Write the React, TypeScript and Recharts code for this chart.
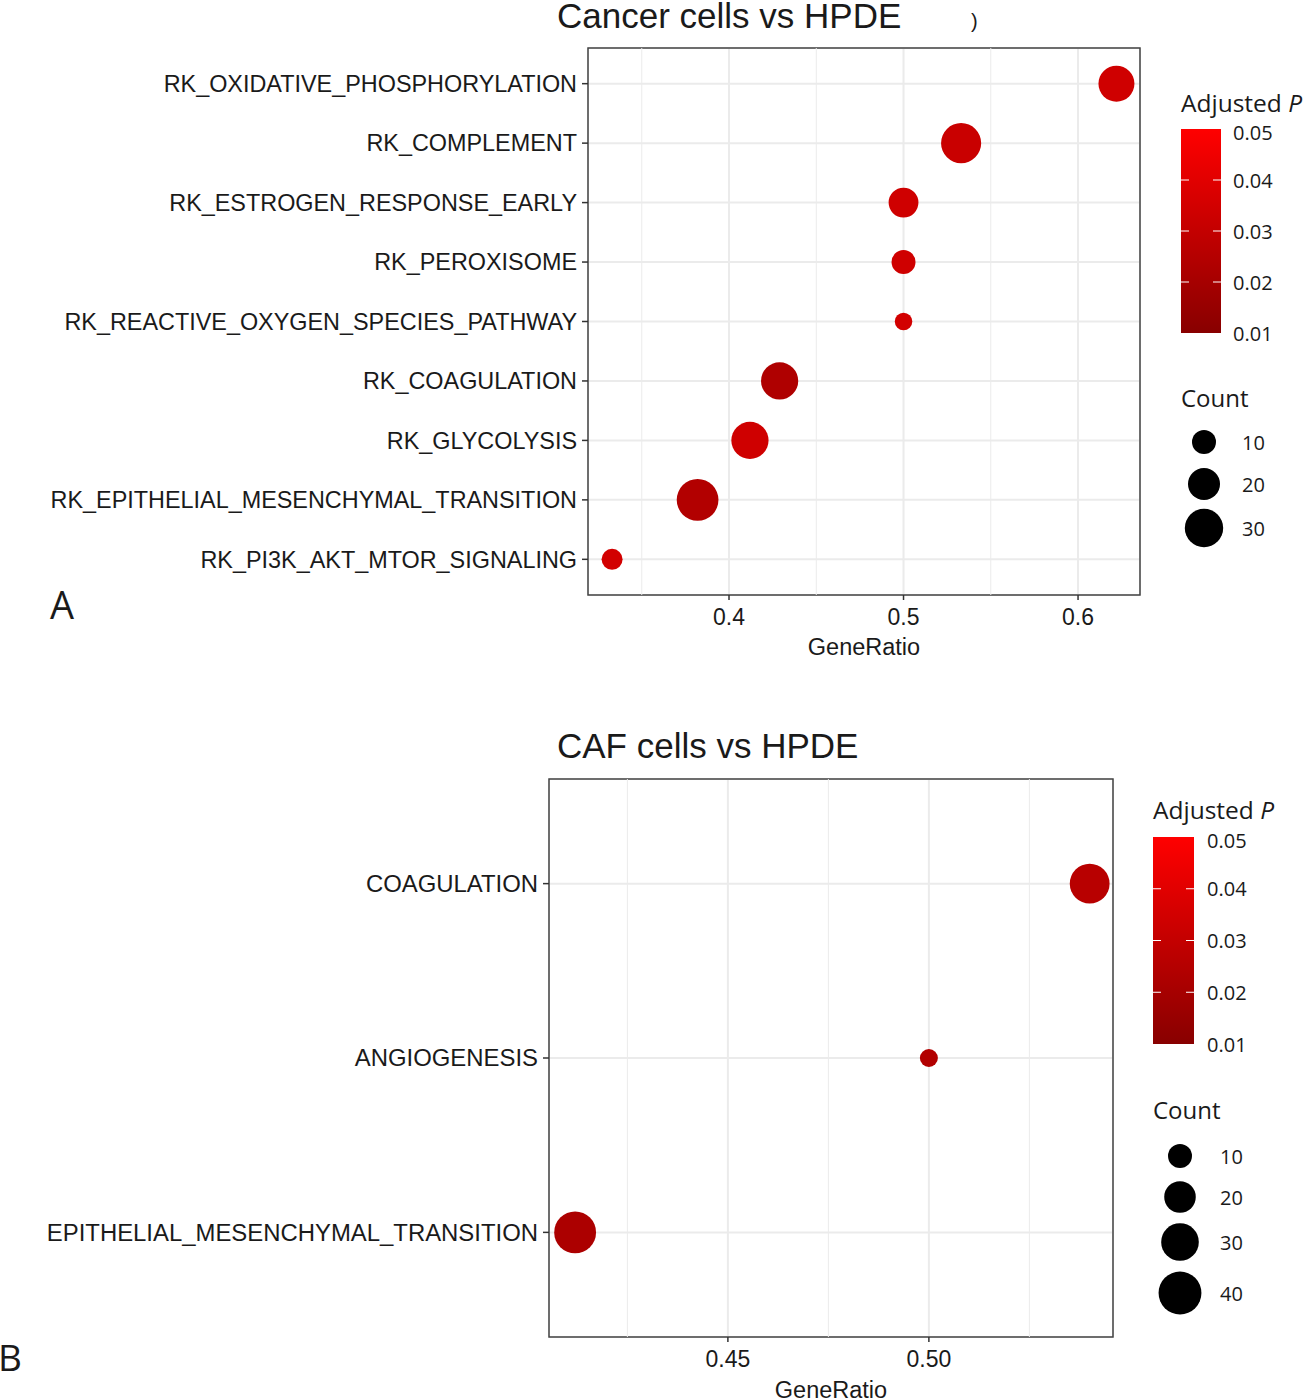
import React from "react";
import {
  ScatterChart,
  Scatter,
  XAxis,
  YAxis,
  ZAxis,
  CartesianGrid,
  ReferenceLine,
  ReferenceArea,
  Cell,
} from "recharts";

// ---- panel A: Cancer cells vs HPDE ----
const termsA = [
  "RK_OXIDATIVE_PHOSPHORYLATION",
  "RK_COMPLEMENT",
  "RK_ESTROGEN_RESPONSE_EARLY",
  "RK_PEROXISOME",
  "RK_REACTIVE_OXYGEN_SPECIES_PATHWAY",
  "RK_COAGULATION",
  "RK_GLYCOLYSIS",
  "RK_EPITHELIAL_MESENCHYMAL_TRANSITION",
  "RK_PI3K_AKT_MTOR_SIGNALING",
];
const ratioA = [0.622, 0.533, 0.5, 0.5, 0.5, 0.429, 0.412, 0.382, 0.333];
const countA = [26, 33, 17, 10, 4, 28, 28, 36, 7];
const padjA = [0.034, 0.032, 0.034, 0.034, 0.035, 0.023, 0.034, 0.024, 0.035];
const xTicksA = [0.4, 0.5, 0.6];
const xMinorA = [0.35, 0.45, 0.55];
const countLegendA = [10, 20, 30];

// ---- panel B: CAF cells vs HPDE ----
const termsB = ["COAGULATION", "ANGIOGENESIS", "EPITHELIAL_MESENCHYMAL_TRANSITION"];
const ratioB = [0.54, 0.5, 0.412];
const countB = [34, 4, 38];
const padjB = [0.026, 0.024, 0.022];
const xTicksB = [0.45, 0.5];
const xMinorB = [0.425, 0.475, 0.525];
const countLegendB = [10, 20, 30, 40];

const pTicks = [0.05, 0.04, 0.03, 0.02, 0.01];

const AXIS_FONT = "'Liberation Sans', Arial, sans-serif";
const LEGEND_FONT = "'Open Sans', 'Noto Sans', sans-serif";
const TEXT = "#1a1a1a";

// dark red at 0.01 -> red at 0.05
const pColor = (p: number) => {
  const t = Math.min(1, Math.max(0, (p - 0.01) / 0.04));
  return `rgb(${Math.round(136 + t * 119)},0,0)`;
};

const Z_DOMAIN: [number, number] = [0, 40];
const areaOf = (c: number, range: [number, number]) =>
  range[0] + ((c - Z_DOMAIN[0]) / (Z_DOMAIN[1] - Z_DOMAIN[0])) * (range[1] - range[0]);
const radiusOf = (c: number, range: [number, number]) => Math.sqrt(areaOf(c, range) / Math.PI);

interface PanelProps {
  terms: string[];
  ratio: number[];
  count: number[];
  padj: number[];
  xDomain: [number, number];
  xTicks: number[];
  xMinor: number[];
  digits: number;
  zRange: [number, number];
  width: number;
  height: number;
  top: number;
  plotLeft: number;
  plotRight: number;
  plotTop: number;
  xAxisHeight: number;
  labelOffset: number;
  yFont: number;
}

function DotPanel(p: PanelProps) {
  const n = p.terms.length;
  const yDomain: [number, number] = [-0.6, n - 1 + 0.6];
  const data = p.terms.map((t, i) => ({ x: p.ratio[i], y: i, z: p.count[i], term: t }));

  return (
    <div style={{ position: "absolute", left: 0, top: p.top }}>
      <ScatterChart
        width={p.width}
        height={p.height}
        margin={{ top: p.plotTop, right: p.width - p.plotRight, bottom: 0, left: 0 }}
      >
        <CartesianGrid stroke="#ebebeb" strokeWidth={2} />
        {p.xMinor.map((v) => (
          <ReferenceLine key={v} x={v} stroke="#ebebeb" strokeWidth={1} />
        ))}
        <XAxis
          type="number"
          dataKey="x"
          domain={p.xDomain}
          allowDataOverflow
          ticks={p.xTicks}
          tickFormatter={(v: number) => v.toFixed(p.digits)}
          height={p.xAxisHeight}
          tickSize={5}
          tickMargin={9}
          axisLine={false}
          tickLine={{ stroke: "#333", strokeWidth: 1.5 }}
          tick={{ fontSize: 23, fill: TEXT, fontFamily: AXIS_FONT }}
          label={{
            value: "GeneRatio",
            position: "insideBottom",
            offset: p.labelOffset,
            fontSize: 23.5,
            fill: TEXT,
            fontFamily: AXIS_FONT,
          }}
        />
        <YAxis
          type="number"
          dataKey="y"
          domain={yDomain}
          reversed
          allowDataOverflow
          ticks={p.terms.map((_, i) => i)}
          interval={0}
          tickFormatter={(v: number) => p.terms[v] ?? ""}
          width={p.plotLeft}
          tickSize={6}
          tickMargin={5}
          axisLine={false}
          tickLine={{ stroke: "#333", strokeWidth: 1.5 }}
          tick={{ fontSize: p.yFont, fill: TEXT, fontFamily: AXIS_FONT }}
        />
        <ZAxis type="number" dataKey="z" domain={Z_DOMAIN} range={p.zRange} />
        <ReferenceArea
          x1={p.xDomain[0]}
          x2={p.xDomain[1]}
          y1={yDomain[0]}
          y2={yDomain[1]}
          fill="none"
          stroke="#444"
          strokeWidth={1.5}
          ifOverflow="visible"
        />
        <Scatter data={data} isAnimationActive={false}>
          {data.map((d, i) => (
            <Cell key={d.term} fill={pColor(p.padj[i])} />
          ))}
        </Scatter>
      </ScatterChart>
    </div>
  );
}

interface LegendProps {
  x: number;
  titleY: number;
  barTop: number;
  barH: number;
  barW: number;
  labelX: number;
  countTitleY: number;
  circleX: number;
  circleYs: number[];
  countLabelX: number;
  counts: number[];
  zRange: [number, number];
  gradId: string;
}

function SideLegend(l: LegendProps) {
  const yOf = (v: number) => l.barTop + l.barH - ((v - 0.01) / 0.04) * l.barH;
  return (
    <g>
      <defs>
        <linearGradient id={l.gradId} x1="0" y1="0" x2="0" y2="1">
          <stop offset="0%" stopColor={pColor(0.05)} />
          <stop offset="100%" stopColor={pColor(0.01)} />
        </linearGradient>
      </defs>
      <text x={l.x} y={l.titleY} fontSize={24.5} fill={TEXT} fontFamily={LEGEND_FONT}>
        Adjusted <tspan fontStyle="italic">P</tspan>
      </text>
      <rect x={l.x} y={l.barTop} width={l.barW} height={l.barH} fill={`url(#${l.gradId})`} />
      {pTicks.slice(1, -1).map((v) => (
        <g key={v}>
          <line x1={l.x} x2={l.x + 8} y1={yOf(v)} y2={yOf(v)} stroke="#fff" strokeWidth={1} />
          <line x1={l.x + l.barW - 8} x2={l.x + l.barW} y1={yOf(v)} y2={yOf(v)} stroke="#fff" strokeWidth={1} />
        </g>
      ))}
      {pTicks.map((v) => (
        <text
          key={v}
          x={l.labelX}
          y={yOf(v) + (v === 0.05 ? 3 : 0)}
          dominantBaseline="central"
          fontSize={20}
          fill={TEXT}
          fontFamily={LEGEND_FONT}
        >
          {v.toFixed(2)}
        </text>
      ))}
      <text x={l.x} y={l.countTitleY} fontSize={24} fill={TEXT} fontFamily={LEGEND_FONT}>
        Count
      </text>
      {l.counts.map((c, i) => (
        <g key={c}>
          <circle cx={l.circleX} cy={l.circleYs[i]} r={radiusOf(c, l.zRange)} fill="#000" />
          <text
            x={l.countLabelX}
            y={l.circleYs[i]}
            dominantBaseline="central"
            fontSize={20}
            fill={TEXT}
            fontFamily={LEGEND_FONT}
          >
            {c}
          </text>
        </g>
      ))}
    </g>
  );
}

const zRangeA: [number, number] = [100, 1510];
const zRangeB: [number, number] = [122, 1442];

export default function App() {
  return (
    <div
      style={{
        position: "absolute",
        left: 0,
        top: 0,
        width: 1308,
        height: 1399,
        background: "#fff",
        overflow: "hidden",
      }}
    >
      <DotPanel
        terms={termsA}
        ratio={ratioA}
        count={countA}
        padj={padjA}
        xDomain={[0.3192, 0.6355]}
        xTicks={xTicksA}
        xMinor={xMinorA}
        digits={1}
        zRange={zRangeA}
        width={1308}
        height={700}
        top={0}
        plotLeft={588}
        plotRight={1140}
        plotTop={48}
        xAxisHeight={105}
        labelOffset={45}
        yFont={23.4}
      />
      <DotPanel
        terms={termsB}
        ratio={ratioB}
        count={countB}
        padj={padjB}
        xDomain={[0.4055, 0.5458]}
        xTicks={xTicksB}
        xMinor={xMinorB}
        digits={2}
        zRange={zRangeB}
        width={1308}
        height={699}
        top={700}
        plotLeft={549}
        plotRight={1113}
        plotTop={79}
        xAxisHeight={62}
        labelOffset={1}
        yFont={23.9}
      />
      <svg
        width={1308}
        height={1399}
        style={{ position: "absolute", left: 0, top: 0, pointerEvents: "none" }}
      >
        <text x={557} y={28} fontSize={35} fill={TEXT} fontFamily={AXIS_FONT}>
          Cancer cells vs HPDE
        </text>
        <text x={971} y={28} fontSize={20} fill={TEXT} fontFamily={AXIS_FONT}>
          )
        </text>
        <text x={557} y={758} fontSize={35} fill={TEXT} fontFamily={AXIS_FONT}>
          CAF cells vs HPDE
        </text>
        <text x={50} y={619} fontSize={38} fill={TEXT} fontFamily={LEGEND_FONT}>
          A
        </text>
        <text x={-2} y={1371} fontSize={37} fill={TEXT} fontFamily={LEGEND_FONT}>
          B
        </text>
        <SideLegend
          x={1181}
          titleY={112}
          barTop={129}
          barH={204}
          barW={40}
          labelX={1233}
          countTitleY={407}
          circleX={1204}
          circleYs={[442, 484, 528]}
          countLabelX={1242}
          counts={countLegendA}
          zRange={zRangeA}
          gradId="gradA"
        />
        <SideLegend
          x={1153}
          titleY={819}
          barTop={837}
          barH={207}
          barW={41}
          labelX={1207}
          countTitleY={1119}
          circleX={1180}
          circleYs={[1156, 1197, 1242, 1293]}
          countLabelX={1220}
          counts={countLegendB}
          zRange={zRangeB}
          gradId="gradB"
        />
      </svg>
    </div>
  );
}
